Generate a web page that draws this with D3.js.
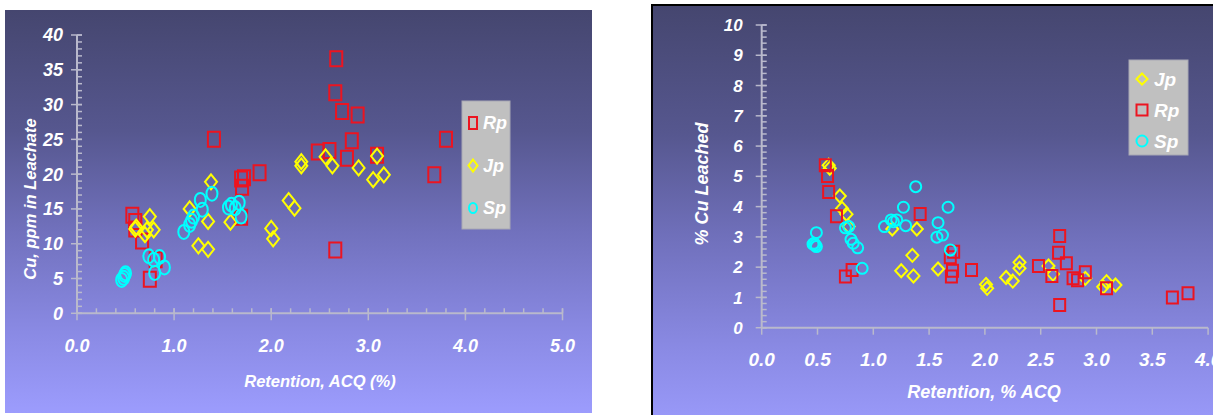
<!DOCTYPE html>
<html>
<head>
<meta charset="utf-8">
<script src="https://cdn.jsdelivr.net/npm/d3@7/dist/d3.min.js"></script>
<style>
  html, body { margin: 0; padding: 0; background: #ffffff; }
  svg { display: block; }
  text { font-family: "Liberation Sans", Arial, sans-serif; font-weight: bold; font-style: italic; fill: #ffffff; }
</style>
</head>
<body>
<svg id="chart" width="1213" height="415"></svg>
<script>
// Copper in leachate vs. retention (left) and % copper leached vs. retention (right)
const seriesNames = ["Rp", "Jp", "Sp"];

// Left chart: Cu, ppm in leachate  [retention %, ppm]
const leachRp = [[0.57,14.1],[0.60,13.2],[0.60,12.1],[0.67,10.4],[0.75,4.9],[0.81,7.7],[1.41,25.0],[1.69,19.3],[1.72,19.5],[1.70,18.1],[1.69,13.8],[1.88,20.2],[2.48,23.2],[2.60,23.4],[2.66,31.7],[2.66,9.1],[2.67,36.6],[2.73,29.0],[2.78,22.3],[2.83,24.8],[2.89,28.5],[3.09,22.7],[3.68,19.9],[3.80,25.0]];
const leachJp = [[0.60,12.1],[0.61,12.4],[0.70,11.3],[0.72,12.0],[0.75,13.9],[0.79,12.0],[1.16,15.0],[1.25,9.7],[1.35,13.2],[1.35,9.2],[1.38,18.9],[1.58,13.1],[2.00,12.2],[2.02,10.7],[2.18,16.2],[2.24,15.1],[2.31,21.8],[2.31,21.2],[2.56,22.5],[2.63,21.2],[2.90,20.9],[3.05,19.2],[3.09,22.6],[3.16,19.9]];
const leachSp = [[0.46,4.8],[0.48,5.1],[0.49,5.5],[0.50,5.75],[0.74,8.2],[0.79,7.7],[0.80,5.8],[0.85,8.1],[0.90,6.6],[1.10,11.7],[1.16,12.7],[1.18,13.3],[1.20,13.9],[1.27,16.3],[1.29,14.9],[1.39,17.2],[1.56,15.2],[1.59,15.6],[1.63,15.1],[1.67,15.9],[1.69,13.9]];

// Right chart: % Cu leached  [retention % ACQ, % leached]
const pctJp = [[0.60,5.37],[0.61,5.27],[0.70,4.35],[0.72,3.94],[0.76,3.75],[0.78,3.34],[1.17,3.26],[1.25,1.88],[1.35,2.39],[1.36,1.71],[1.39,3.26],[1.58,1.94],[2.01,1.43],[2.02,1.30],[2.19,1.66],[2.25,1.54],[2.31,2.16],[2.31,1.96],[2.57,2.04],[2.61,1.77],[2.90,1.63],[3.06,1.35],[3.09,1.52],[3.17,1.41]];
const pctRp = [[0.57,5.37],[0.59,5.01],[0.60,4.48],[0.67,3.68],[0.75,1.69],[0.81,1.91],[1.42,3.76],[1.69,2.33],[1.70,1.69],[1.71,1.88],[1.72,2.51],[1.88,1.91],[2.48,2.04],[2.60,1.71],[2.66,2.48],[2.67,3.03],[2.67,0.75],[2.73,2.13],[2.79,1.63],[2.83,1.57],[2.90,1.83],[3.09,1.30],[3.68,1.00],[3.82,1.14]];
const pctSp = [[0.46,2.76],[0.47,2.79],[0.48,2.73],[0.49,2.68],[0.49,3.14],[0.75,3.30],[0.78,3.34],[0.80,2.92],[0.82,2.79],[0.86,2.64],[0.90,1.96],[1.10,3.34],[1.16,3.56],[1.18,3.50],[1.21,3.56],[1.27,3.98],[1.29,3.37],[1.38,4.66],[1.57,2.99],[1.58,3.47],[1.62,3.06],[1.67,3.98],[1.69,2.57]];

// Tick values
const leachXTicks = [0, 1, 2, 3, 4, 5];
const leachYTicks = [0, 5, 10, 15, 20, 25, 30, 35, 40];
const pctXTicks = [0, 0.5, 1, 1.5, 2, 2.5, 3, 3.5, 4];
const pctYTicks = [0, 1, 2, 3, 4, 5, 6, 7, 8, 9, 10];

const colors = { Rp: "#ec1420", Jp: "#ffff00", Sp: "#00ffff" };
const shapes = { Rp: "square", Jp: "diamond", Sp: "circle" };

const svg = d3.select("#chart");
const defs = svg.append("defs");
const grad = defs.append("linearGradient").attr("id", "bg").attr("x1", 0).attr("y1", 0).attr("x2", 0).attr("y2", 1);
[["0%", "#45466f"], ["30%", "#56578f"], ["55%", "#7171bd"], ["80%", "#8a8ae4"], ["100%", "#9c9cfd"]]
  .forEach(([o, c]) => grad.append("stop").attr("offset", o).attr("stop-color", c));

function markerPath(shape, w, h) {
  const a = w / 2, b = h / 2;
  if (shape === "square") return `M${-a},${-b}H${a}V${b}H${-a}Z`;
  if (shape === "diamond") return `M0,${-b}L${a},0L0,${b}L${-a},0Z`;
  // ellipse
  return `M${-a},0A${a},${b} 0 1,0 ${a},0A${a},${b} 0 1,0 ${-a},0Z`;
}

function drawPanel(cfg) {
  const g = svg.append("g");
  g.append("rect").attr("x", cfg.box[0]).attr("y", cfg.box[1]).attr("width", cfg.box[2]).attr("height", cfg.box[3])
    .attr("fill", "url(#bg)")
    .attr("stroke", cfg.border ? "#000" : "none").attr("stroke-width", 2);

  const x = d3.scaleLinear().domain(cfg.xDomain).range(cfg.xRange);
  const y = d3.scaleLinear().domain(cfg.yDomain).range(cfg.yRange);
  const axisColor = "#b9b9cc";

  // y axis with minor ticks
  const yAxis = g.append("g");
  yAxis.append("line").attr("x1", x(0)).attr("x2", x(0)).attr("y1", y(cfg.yDomain[0])).attr("y2", y(cfg.yDomain[1]))
    .attr("stroke", axisColor).attr("stroke-width", 2);
  const yMinor = d3.range(cfg.yDomain[0], cfg.yDomain[1] + 1e-9, cfg.yMinorStep);
  yAxis.selectAll(".ym").data(yMinor).join("line")
    .attr("x1", x(0)).attr("x2", x(0) + 5).attr("y1", d => y(d)).attr("y2", d => y(d))
    .attr("stroke", axisColor).attr("stroke-width", 1.5);
  yAxis.selectAll(".yM").data(cfg.yTicks).join("line")
    .attr("x1", x(0) - 6).attr("x2", x(0) + 5).attr("y1", d => y(d)).attr("y2", d => y(d))
    .attr("stroke", axisColor).attr("stroke-width", 1.5);
  yAxis.selectAll("text").data(cfg.yTicks).join("text")
    .attr("x", x(0) - cfg.yLabelGap).attr("y", d => y(d)).attr("dy", "0.36em")
    .attr("text-anchor", "end").style("font-size", cfg.yLabelSize + "px").text(d => d);

  // x axis
  const xAxis = g.append("g");
  xAxis.append("line").attr("x1", x(cfg.xDomain[0])).attr("x2", x(cfg.xDomain[1])).attr("y1", y(0)).attr("y2", y(0))
    .attr("stroke", axisColor).attr("stroke-width", 2);
  if (cfg.xMinorStep) {
    const xMinor = d3.range(cfg.xDomain[0], cfg.xDomain[1] + 1e-9, cfg.xMinorStep);
    xAxis.selectAll(".xm").data(xMinor).join("line")
      .attr("x1", d => x(d)).attr("x2", d => x(d)).attr("y1", y(0) - 5).attr("y2", y(0))
      .attr("stroke", axisColor).attr("stroke-width", 1.5);
  }
  xAxis.selectAll(".xM").data(cfg.xTicks).join("line")
    .attr("x1", d => x(d)).attr("x2", d => x(d)).attr("y1", y(0) - cfg.xTickUp).attr("y2", y(0) + 7)
    .attr("stroke", axisColor).attr("stroke-width", 1.5);
  xAxis.selectAll("text").data(cfg.xTicks).join("text")
    .attr("x", d => x(d)).attr("y", y(0) + cfg.xLabelOffset)
    .attr("text-anchor", "middle").style("font-size", cfg.xLabelSize + "px").text(d => d3.format(".1f")(d));

  // titles
  g.append("text").attr("x", cfg.xTitle[1]).attr("y", cfg.xTitle[2]).attr("text-anchor", "middle")
    .style("font-size", cfg.titleSize + "px").text(cfg.xTitle[0]);
  g.append("text").attr("transform", `translate(${cfg.yTitle[1]},${cfg.yTitle[2]}) rotate(-90)`)
    .attr("text-anchor", "middle").attr("dy", "0.35em")
    .style("font-size", cfg.titleSize + "px").text(cfg.yTitle[0]);

  // series
  cfg.series.forEach(s => {
    const sz = cfg.markerSize[shapes[s.name]];
    g.append("g").selectAll("path").data(s.values).join("path")
      .attr("transform", d => `translate(${x(d[0])},${y(d[1])})`)
      .attr("d", markerPath(shapes[s.name], sz[0], sz[1]))
      .attr("fill", "none").attr("stroke", colors[s.name]).attr("stroke-width", 2);
  });

  // legend
  const L = cfg.legend;
  const lg = g.append("g");
  lg.append("rect").attr("x", L.box[0]).attr("y", L.box[1]).attr("width", L.box[2]).attr("height", L.box[3])
    .attr("fill", "#c0c0c0").attr("stroke", "#a8a8b4").attr("stroke-width", 1);
  L.order.forEach((name, i) => {
    const cy = L.firstY + i * L.step;
    const sz = L.markerSize[shapes[name]];
    lg.append("path").attr("transform", `translate(${L.markerX},${cy})`)
      .attr("d", markerPath(shapes[name], sz[0], sz[1]))
      .attr("fill", "none").attr("stroke", colors[name]).attr("stroke-width", 2);
    lg.append("text").attr("x", L.textX).attr("y", cy).attr("dy", "0.36em")
      .style("font-size", L.fontSize + "px").text(name);
  });
}

drawPanel({
  box: [5, 10, 587, 403], border: false,
  xDomain: [0, 5], xRange: [77, 562.5],
  yDomain: [0, 40], yRange: [313.3, 35],
  xTicks: leachXTicks, yTicks: leachYTicks, yMinorStep: 1, xMinorStep: 0.2, xTickUp: 5,
  yLabelGap: 14, yLabelSize: 18, xLabelOffset: 39, xLabelSize: 18,
  titleSize: 16.5,
  xTitle: ["Retention, ACQ (%)", 320, 387],
  yTitle: ["Cu, ppm in Leachate", 30, 199],
  markerSize: { square: [12, 15], diamond: [12, 15], circle: [11, 14] },
  series: [
    { name: "Rp", values: leachRp },
    { name: "Jp", values: leachJp },
    { name: "Sp", values: leachSp }
  ],
  legend: { box: [462, 101, 48, 128], order: seriesNames, firstY: 123, step: 42.5, markerX: 473, textX: 483,
            fontSize: 18, markerSize: { square: [8, 12], diamond: [9, 12], circle: [8, 10] } }
});

drawPanel({
  box: [652, 5, 600, 430], border: true,
  xDomain: [0, 4], xRange: [761.7, 1208.1],
  yDomain: [0, 10], yRange: [327.7, 25],
  xTicks: pctXTicks, yTicks: pctYTicks, yMinorStep: 0.2, xMinorStep: null, xTickUp: 0,
  yLabelGap: 19, yLabelSize: 17, xLabelOffset: 38, xLabelSize: 19,
  titleSize: 18,
  xTitle: ["Retention, % ACQ", 984, 398],
  yTitle: ["% Cu Leached", 702, 184],
  markerSize: { square: [11, 12], diamond: [12, 13], circle: [11, 11] },
  series: [
    { name: "Jp", values: pctJp },
    { name: "Rp", values: pctRp },
    { name: "Sp", values: pctSp }
  ],
  legend: { box: [1129, 60, 59, 95], order: ["Jp", "Rp", "Sp"], firstY: 79, step: 31, markerX: 1142, textX: 1154,
            fontSize: 19, markerSize: { square: [11, 11], diamond: [11, 11], circle: [11, 11] } }
});
</script>
</body>
</html>
